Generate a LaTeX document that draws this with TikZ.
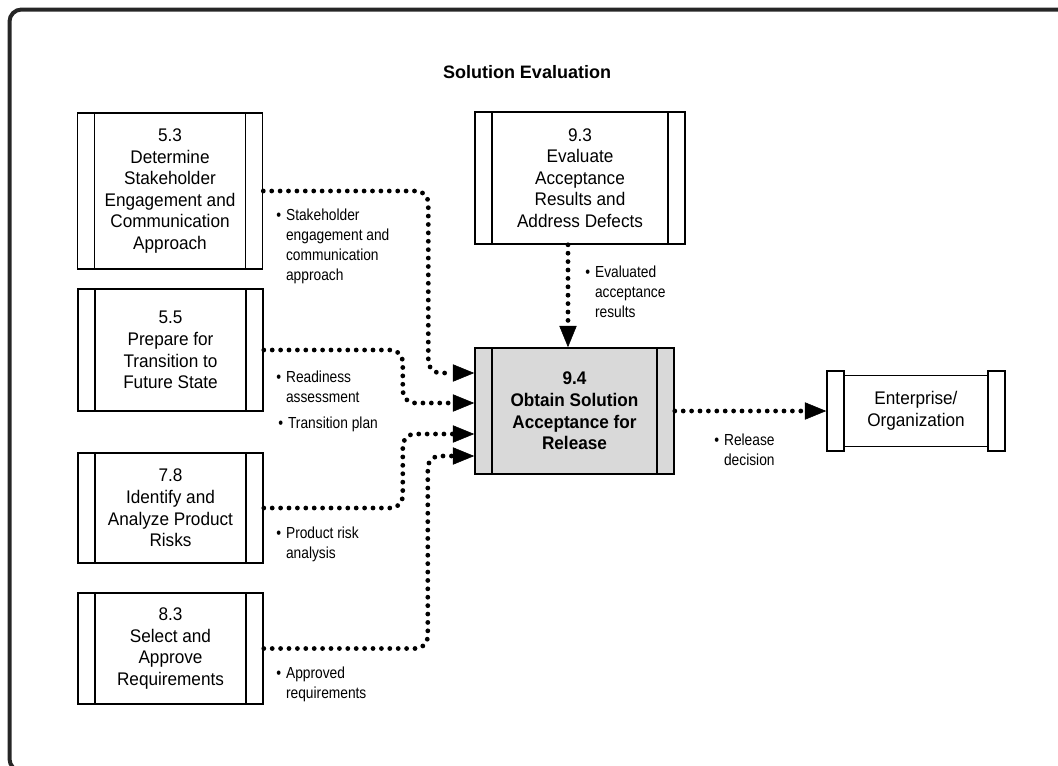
\documentclass[tikz,border=0pt]{standalone}
\usepackage{fontspec}
\setmainfont{Liberation Sans}
\newfontfamily\boxface[FakeStretch=0.94]{Liberation Sans}
\newfontfamily\lblface[FakeStretch=0.86]{Liberation Sans}
\usetikzlibrary{arrows.meta,calc}
\newlength{\pix}\setlength{\pix}{0.75pt}
\newcommand{\boxfont}{\boxface\fontsize{13.7}{16.2}\selectfont}
\newcommand{\lblfont}{\lblface\fontsize{12}{15}\selectfont}
\newcommand{\bul}[1]{\textbullet\hspace{5\pix}\begin{tabular}[t]{@{}l@{}}#1\end{tabular}}

\begin{document}
\begin{tikzpicture}[x=0.75pt, y=-0.75pt,
  proc/.style={draw, line width=1.2pt, align=center, inner sep=0pt,
    font=\boxfont, minimum width=185\pix,
    path picture={
      \draw[line width=1.2pt] ([xshift=17\pix]path picture bounding box.north west)
        -- ([xshift=17\pix]path picture bounding box.south west);
      \draw[line width=1.2pt] ([xshift=-17\pix]path picture bounding box.north east)
        -- ([xshift=-17\pix]path picture bounding box.south east);}},
  bar/.style={draw, line width=1.2pt, inner sep=0pt, minimum width=17\pix,
    minimum height=80\pix},
  lbl/.style={anchor=base west, inner sep=0pt, font=\lblfont},
  flow/.style={line width=3.6pt, line cap=round, dash pattern=on 0pt off 6.3pt,
    rounded corners=9pt,
    -{Triangle[length=16pt, width=13pt, line width=0.4pt]}}]
\useasboundingbox (0,0) rectangle (1058,765);
\clip (0,0) rectangle (1058,765);
\draw[line width=3pt, rounded corners=9pt, draw=black!85] (9.5,9.5) rectangle (1080,771);

\node[font=\fontsize{13.5}{16}\selectfont\bfseries] (title) at (527,72) {Solution Evaluation};

\node[proc, minimum height=156\pix] (b53) at (170,191)
  {5.3\\Determine\\Stakeholder\\Engagement and\\Communication\\Approach};
\node[proc, minimum height=122\pix] (b55) at (170.5,350)
  {5.5\\Prepare for\\Transition to\\Future State};
\node[proc, minimum height=110\pix] (b78) at (170.5,508)
  {7.8\\Identify and\\Analyze Product\\Risks};
\node[proc, minimum height=111\pix] (b83) at (170.5,648.5)
  {8.3\\Select and\\Approve\\Requirements};
\node[proc, minimum width=210\pix, minimum height=132\pix] (b93) at (580,178)
  {9.3\\Evaluate\\Acceptance\\Results and\\Address Defects};
\node[proc, fill=black!15, font=\boxfont\bfseries, minimum width=199\pix,
  minimum height=126\pix] (b94) at (574.5,411)
  {9.4\\Obtain Solution\\Acceptance for\\Release};

\node[draw, line width=1.2pt, minimum width=144\pix, minimum height=71\pix,
  font=\boxfont, align=center] (ent) at (916,411) {Enterprise/\\Organization};
\node[bar] (entl) at (835.5,411) {};
\node[bar] (entr) at (996.5,411) {};

\draw[flow] (b53.east) -- ++(165,0) |- ($(b94.west)+(0,-38)$);
\draw[flow] (b55.east) -- ++(139,0) |- ($(b94.west)+(0,-8)$);
\draw[flow] (b78.east) -- ++(139,0) |- ($(b94.west)+(0,23)$);
\draw[flow] (b83.east) -- ++(164,0) |- ($(b94.west)+(0,45)$);
\draw[flow] ([xshift=-12\pix]b93.south) -- ([xshift=-6.5\pix]b94.north);
\draw[flow] (b94.east) -- (entl.west);

\node[lbl] (l53) at (276,220) {\bul{Stakeholder\\engagement and\\communication\\approach}};
\node[lbl] (l93) at (585,277) {\bul{Evaluated\\acceptance\\results}};
\node[lbl] (l55a) at (276,382) {\bul{Readiness\\assessment}};
\node[lbl] (l55b) at (278,428) {\bul{Transition plan}};
\node[lbl] (l78) at (276,538) {\bul{Product risk\\analysis}};
\node[lbl] (l83) at (276,678) {\bul{Approved\\requirements}};
\node[lbl] (l94) at (714,445) {\bul{Release\\decision}};
\end{tikzpicture}
\end{document}
